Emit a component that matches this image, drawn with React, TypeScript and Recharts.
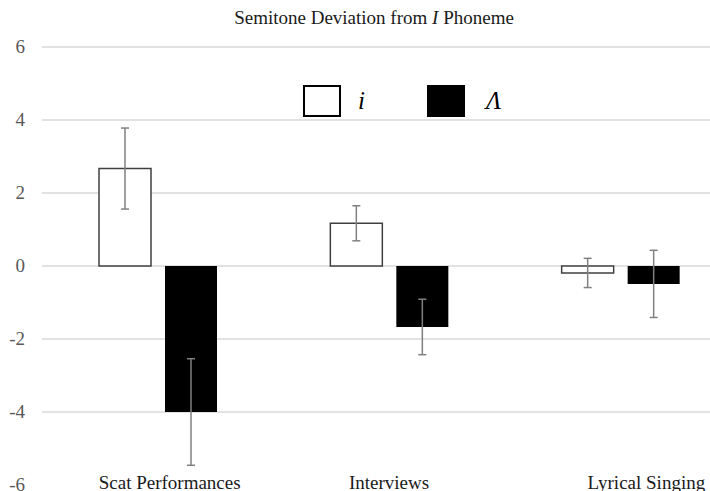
import React from "react";
import {
  Bar,
  BarChart,
  CartesianGrid,
  ErrorBar,
  Legend,
  XAxis,
  YAxis,
} from "recharts";

const categories = ["Scat Performances", "Interviews", "Lyrical Singing"];
const iMeans = [2.67, 1.17, -0.19];
const iErrors = [1.11, 0.48, 0.4];
const lambdaMeans = [-4.0, -1.67, -0.49];
const lambdaErrors = [1.46, 0.76, 0.92];
const yTicks = [-6, -4, -2, 0, 2, 4, 6];
const gridValues = [-4, -2, 0, 2, 4, 6];

const SERIF = "'Liberation Serif', 'Times New Roman', Times, serif";

const data = categories.map((name, i) => ({
  name,
  i: iMeans[i],
  iErr: iErrors[i],
  lambda: lambdaMeans[i],
  lambdaErr: lambdaErrors[i],
}));

// Excel left the labels slightly off-centre, nudge them to match
const labelShift = [12, 0, 26];

function CategoryTick(props: any) {
  const { x, y, payload, index } = props;
  return (
    <text
      x={x + (labelShift[index] ?? 0)}
      y={y}
      dy={4}
      textAnchor="middle"
      fill="#1a1a1a"
      fontSize={19}
      fontFamily={SERIF}
    >
      {payload.value}
    </text>
  );
}

function ValueTick(props: any) {
  const { x, y, payload } = props;
  return (
    <text
      x={x}
      y={y}
      dy={6}
      textAnchor="end"
      fill="#595959"
      fontSize={19}
      fontFamily={SERIF}
    >
      {payload.value}
    </text>
  );
}

function renderLegend(props: any) {
  const { payload } = props;
  return (
    <div style={{ display: "flex", alignItems: "center", gap: 62 }}>
      {(payload || []).map((entry: any) => (
        <div
          key={entry.value}
          style={{ display: "flex", alignItems: "center" }}
        >
          <div
            style={{
              width: 38,
              height: 32,
              boxSizing: "border-box",
              background: entry.dataKey === "i" ? "#ffffff" : "#000000",
              border: "2px solid #000",
            }}
          />
          <span
            style={{
              marginLeft: entry.dataKey === "i" ? 17 : 21,
              fontFamily: SERIF,
              fontStyle: "italic",
              fontSize: 25,
              color: "#000",
              lineHeight: "32px",
            }}
          >
            {entry.value}
          </span>
        </div>
      ))}
    </div>
  );
}

export default function App() {
  return (
    <div
      style={{
        position: "fixed",
        top: 0,
        left: 0,
        width: 710,
        height: 491,
        overflow: "hidden",
        background: "#fff",
      }}
    >
      <div
        style={{
          position: "absolute",
          top: 7,
          left: 374,
          transform: "translateX(-50%)",
          whiteSpace: "nowrap",
          fontFamily: SERIF,
          fontSize: 19,
          color: "#1a1a1a",
        }}
      >
        Semitone Deviation from <i>I</i> Phoneme
      </div>
      <BarChart
        width={740}
        height={491}
        data={data}
        margin={{ top: 47, right: 4, left: 0, bottom: 0 }}
        barSize={52}
        barGap={14}
      >
        <CartesianGrid
          vertical={false}
          stroke="#d9d9d9"
          strokeWidth={1.3}
          horizontalValues={gridValues}
        />
        <XAxis
          dataKey="name"
          height={6}
          axisLine={false}
          tickLine={false}
          tickSize={0}
          tickMargin={0}
          interval={0}
          tick={<CategoryTick />}
        />
        <YAxis
          width={42}
          domain={[-6, 6]}
          ticks={yTicks}
          interval={0}
          axisLine={false}
          tickLine={false}
          tickMargin={11}
          tick={<ValueTick />}
        />
        <Legend
          verticalAlign="middle"
          align="center"
          layout="horizontal"
          content={renderLegend}
          wrapperStyle={{ top: 85, left: 303, width: "auto" }}
        />
        <Bar
          dataKey="i"
          name="i"
          fill="#ffffff"
          stroke="#404040"
          strokeWidth={1.5}
          isAnimationActive={false}
        >
          <ErrorBar
            dataKey="iErr"
            width={4}
            stroke="#808080"
            strokeWidth={1.5}
            isAnimationActive={false}
          />
        </Bar>
        <Bar
          dataKey="lambda"
          name="Λ"
          fill="#000000"
          isAnimationActive={false}
        >
          <ErrorBar
            dataKey="lambdaErr"
            width={4}
            stroke="#808080"
            strokeWidth={1.5}
            isAnimationActive={false}
          />
        </Bar>
      </BarChart>
    </div>
  );
}
